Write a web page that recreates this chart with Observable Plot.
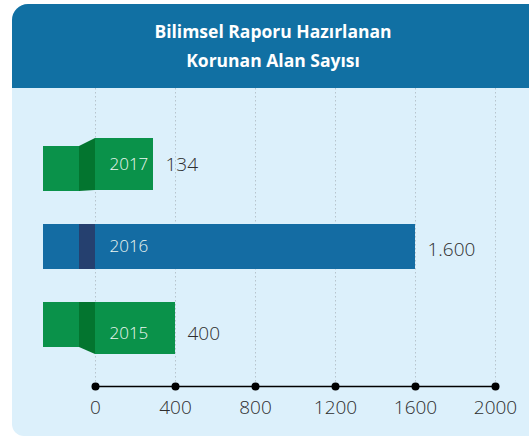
<!DOCTYPE html>
<html><head><meta charset="utf-8">
<script src="https://cdn.jsdelivr.net/npm/d3@7"></script>
<script src="https://cdn.jsdelivr.net/npm/@observablehq/plot@0.6"></script>
<style>
html,body{margin:0;padding:0;background:#fff;overflow:hidden;font-family:"Open Sans",sans-serif}
#card{position:absolute;left:12px;top:4px;width:540px;height:432px;background:#dcf0fb;border-radius:16px 0 0 12px;overflow:hidden}
#head{height:84px;background:#1170a3;width:540px}
#title{width:522px;text-align:center;color:#fff;font-family:"Open Sans",sans-serif;font-weight:700;font-size:17.5px;line-height:29px;padding-top:13px;box-sizing:border-box}
#chart svg{display:block}
</style></head>
<body>
<div id="card"><div id="head"><div id="title">Bilimsel Raporu Hazırlanan<br>Korunan Alan Sayısı</div></div><div id="chart"></div></div>
<script>
// data
const years = ["2017", "2016", "2015"];
const values = [134, 1600, 400];
const ticks = [0, 400, 800, 1200, 1600, 2000];
// style
const shapes = {"2017": "up", "2016": "flat", "2015": "down"};
const mainColor = {"2017": "#0a924a", "2016": "#146ca3", "2015": "#0a924a"};
const foldColor = {"2017": "#03752f", "2016": "#25406f", "2015": "#03752f"};
const minBar = 290; // bars are at least long enough for the year label

const tr = d3.formatLocale({decimal: ",", thousands: ".", grouping: [3], currency: ["", ""]});
const fmt = tr.format(",d");

const rows = years.map((y, i) => ({year: y, value: values[i], end: Math.max(values[i], minBar), shape: shapes[y]}));

const shapeInfo = {
  up:   {insetTop: -8, insetBottom: 1, dy: -4, dyYear: -4},
  flat: {insetTop: 0, insetBottom: 0, dy: 3, dyYear: 0},
  down: {insetTop: 0, insetBottom: -7, dy: 9, dyYear: 9}
};

// tail + fold of each ribbon, positioned through the plot's scales
function ribbonTails(index, scales) {
  const g = d3.create("svg:g");
  const x0 = scales.x(0);
  const bw = scales.y.bandwidth ? scales.y.bandwidth() : 46;
  for (const r of rows) {
    const top = scales.y(r.year), bot = top + bw;
    g.append("rect").attr("x", x0 - 52).attr("y", top).attr("width", 37).attr("height", bw).attr("fill", mainColor[r.year]);
    let pts;
    if (r.shape === "up") pts = [[x0 - 16, top], [x0, top - 8], [x0, bot - 1], [x0 - 16, bot]];
    else if (r.shape === "down") pts = [[x0 - 16, top], [x0, top], [x0, bot + 7], [x0 - 16, bot]];
    else pts = [[x0 - 16, top], [x0, top], [x0, bot], [x0 - 16, bot]];
    g.append("polygon").attr("points", pts.map(p => p.join(",")).join(" ")).attr("fill", foldColor[r.year]);
  }
  return g.node();
}

const font = {fontSize: 19, fontWeight: 300};
const marks = [
  Plot.ruleX(ticks, {x: d => d, stroke: "#b7c4cc", strokeWidth: 1, strokeDasharray: "1.5 2.5"}),
  Plot.frame({anchor: "bottom", stroke: "#000", strokeWidth: 1.6}),
  Plot.dot(ticks, {x: d => d, frameAnchor: "bottom", r: 4, fill: "#000", stroke: null}),
  Plot.axisX({ticks, tickSize: 0, tickPadding: 14, fill: "#2e2e2e", tickFormat: d => String(d), label: null, ...font})
];
for (const s of ["up", "flat", "down"]) {
  const data = rows.filter(r => r.shape === s);
  const info = shapeInfo[s];
  marks.push(Plot.barX(data, {x1: 0, x2: "end", y: "year", fill: d => mainColor[d.year], insetTop: info.insetTop, insetBottom: info.insetBottom}));
}
marks.push(ribbonTails);
for (const s of ["up", "flat", "down"]) {
  const data = rows.filter(r => r.shape === s);
  const info = shapeInfo[s];
  marks.push(Plot.text(data, {x: 0, y: "year", text: "year", dx: 14, dy: info.dyYear, textAnchor: "start", fill: "#eef7f1", fontSize: 17, fontWeight: 300}));
  marks.push(Plot.text(data, {x: "end", y: "year", text: d => fmt(d.value), dx: 12, dy: info.dy, textAnchor: "start", fill: "#2e2e2e", ...font}));
}

const plot = Plot.plot({
  width: 517, height: 348,
  marginLeft: 83, marginRight: 34, marginTop: 0, marginBottom: 50,
  style: {background: "transparent", fontFamily: "'Open Sans', sans-serif", overflow: "visible"},
  x: {domain: [0, 2000], axis: null},
  y: {type: "band", domain: years, range: [24, 294], padding: 0.418, axis: null},
  color: {type: "identity"},
  marks
});
document.getElementById("chart").appendChild(plot);
</script>
</body></html>
